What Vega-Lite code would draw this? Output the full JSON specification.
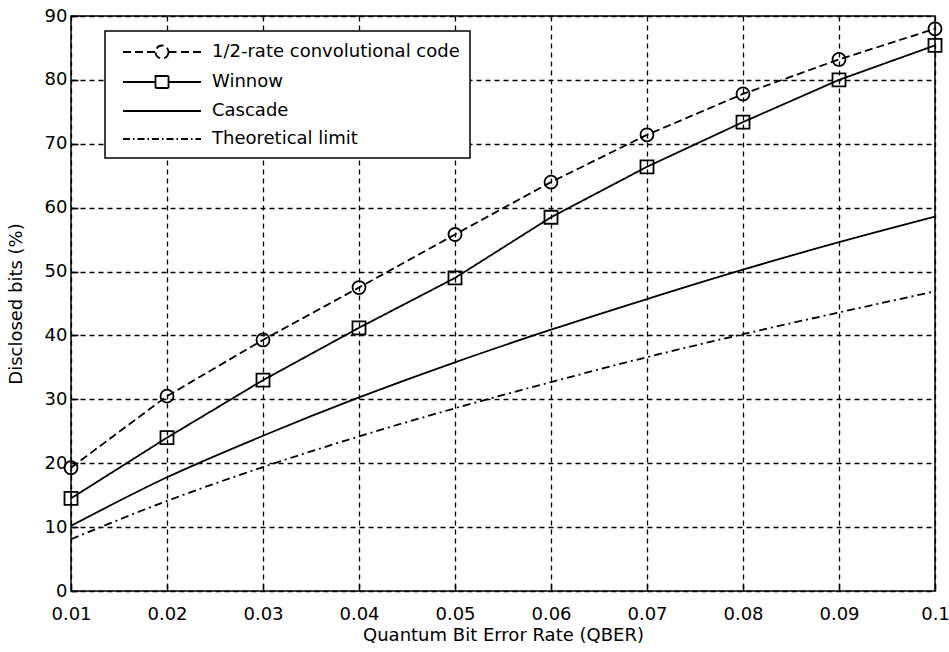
{
  "$schema": "https://vega.github.io/schema/vega-lite/v6.json",
  "width": 864,
  "height": 575,
  "autosize": {"type": "none"},
  "padding": {"left": 71, "top": 16, "right": 14, "bottom": 61},
  "background": "white",
  "data": {
    "values": [
      {"x": 0.01, "y": 19.3, "s": "1/2-rate convolutional code"},
      {"x": 0.02, "y": 30.5, "s": "1/2-rate convolutional code"},
      {"x": 0.03, "y": 39.3, "s": "1/2-rate convolutional code"},
      {"x": 0.04, "y": 47.5, "s": "1/2-rate convolutional code"},
      {"x": 0.05, "y": 55.8, "s": "1/2-rate convolutional code"},
      {"x": 0.06, "y": 64.0, "s": "1/2-rate convolutional code"},
      {"x": 0.07, "y": 71.4, "s": "1/2-rate convolutional code"},
      {"x": 0.08, "y": 77.8, "s": "1/2-rate convolutional code"},
      {"x": 0.09, "y": 83.2, "s": "1/2-rate convolutional code"},
      {"x": 0.10, "y": 88.0, "s": "1/2-rate convolutional code"},
      {"x": 0.01, "y": 14.5, "s": "Winnow"},
      {"x": 0.02, "y": 24.0, "s": "Winnow"},
      {"x": 0.03, "y": 33.0, "s": "Winnow"},
      {"x": 0.04, "y": 41.2, "s": "Winnow"},
      {"x": 0.05, "y": 49.0, "s": "Winnow"},
      {"x": 0.06, "y": 58.5, "s": "Winnow"},
      {"x": 0.07, "y": 66.4, "s": "Winnow"},
      {"x": 0.08, "y": 73.4, "s": "Winnow"},
      {"x": 0.09, "y": 80.0, "s": "Winnow"},
      {"x": 0.10, "y": 85.4, "s": "Winnow"},
      {"x": 0.01, "y": 10.2, "s": "Cascade"},
      {"x": 0.02, "y": 17.8, "s": "Cascade"},
      {"x": 0.03, "y": 24.3, "s": "Cascade"},
      {"x": 0.04, "y": 30.3, "s": "Cascade"},
      {"x": 0.05, "y": 35.8, "s": "Cascade"},
      {"x": 0.06, "y": 40.9, "s": "Cascade"},
      {"x": 0.07, "y": 45.7, "s": "Cascade"},
      {"x": 0.08, "y": 50.3, "s": "Cascade"},
      {"x": 0.09, "y": 54.6, "s": "Cascade"},
      {"x": 0.10, "y": 58.6, "s": "Cascade"},
      {"x": 0.01, "y": 8.1, "s": "Theoretical limit"},
      {"x": 0.02, "y": 14.1, "s": "Theoretical limit"},
      {"x": 0.03, "y": 19.4, "s": "Theoretical limit"},
      {"x": 0.04, "y": 24.2, "s": "Theoretical limit"},
      {"x": 0.05, "y": 28.6, "s": "Theoretical limit"},
      {"x": 0.06, "y": 32.7, "s": "Theoretical limit"},
      {"x": 0.07, "y": 36.6, "s": "Theoretical limit"},
      {"x": 0.08, "y": 40.2, "s": "Theoretical limit"},
      {"x": 0.09, "y": 43.6, "s": "Theoretical limit"},
      {"x": 0.10, "y": 46.9, "s": "Theoretical limit"}
    ]
  },
  "encoding": {
    "x": {
      "field": "x", "type": "quantitative",
      "scale": {"domain": [0.01, 0.1], "nice": false, "zero": false},
      "axis": {
        "values": [0.01, 0.02, 0.03, 0.04, 0.05, 0.06, 0.07, 0.08, 0.09, 0.1],
        "format": ".2~f",
        "labelFlush": false,
        "labelPadding": 21,
        "title": "Quantum Bit Error Rate (QBER)",
        "titlePadding": 3
      }
    },
    "y": {
      "field": "y", "type": "quantitative",
      "scale": {"domain": [0, 90], "nice": false},
      "axis": {
        "values": [0, 10, 20, 30, 40, 50, 60, 70, 80, 90],
        "labelFlush": false,
        "title": "Disclosed bits (%)",
        "titlePadding": 19
      }
    }
  },
  "layer": [
    {
      "transform": [{"filter": "datum.s == '1/2-rate convolutional code' || datum.s == 'Winnow'"}],
      "mark": {"type": "line", "color": "black", "strokeWidth": 1.8},
      "encoding": {
        "strokeDash": {
          "field": "s", "type": "nominal",
          "scale": {
            "domain": ["1/2-rate convolutional code", "Winnow", "Cascade", "Theoretical limit"],
            "range": [[8, 4], [1, 0], [1, 0], [8, 4, 2, 4]]
          },
          "legend": {
            "title": null,
            "orient": "none",
            "legendX": 34,
            "legendY": 15,
            "padding": 10,
            "fillColor": "white",
            "strokeColor": "black",
            "symbolSize": 400,
            "symbolStrokeColor": "black",
            "symbolStrokeWidth": 1.8,
            "labelOffset": 75,
            "labelFont": "DejaVu Sans",
            "labelFontSize": 18,
            "labelColor": "black",
            "labelLimit": 400,
            "rowPadding": 8,
            "encode": {
              "symbols": {
                "update": {
                  "shape": {"signal": "datum.value === 'Winnow' ? 'M-0.3,0L2.95,0M4.25,0L7.5,0M2.95,-0.6L4.25,-0.6L4.25,0.6L2.95,0.6Z' : datum.value === 'Cascade' ? 'M-0.3,0L7.5,0' : datum.value === 'Theoretical limit' ? 'M-0.3,0L0.4,0M0.7,0L0.85,0M1.15,0L1.85,0M2.15,0L2.3,0M2.6,0L3.3,0M3.6,0L3.75,0M4.05,0L4.75,0M5.05,0L5.2,0M5.5,0L6.2,0M6.5,0L6.65,0M6.95,0L7.5,0' : 'M-0.3,0L0.5,0M0.9,0L1.7,0M2.1,0L2.95,0M4.25,0L5.1,0M5.5,0L6.3,0M6.7,0L7.5,0M4.25,0A0.65,0.65 0 1 1 2.95,0A0.65,0.65 0 1 1 4.25,0'"},
                  "strokeDash": {"value": [1, 0]},
                  "fill": {"value": "transparent"},
                  "stroke": {"value": "black"},
                  "strokeWidth": {"value": 1.8},
                  "opacity": {"value": 1}
                }
              }
            }
          }
        }
      }
    },
    {
      "transform": [{"filter": "datum.s == 'Cascade'"}],
      "mark": {"type": "line", "color": "black", "strokeWidth": 1.8, "interpolate": "monotone"}
    },
    {
      "transform": [{"filter": "datum.s == 'Theoretical limit'"}],
      "mark": {"type": "line", "color": "black", "strokeWidth": 1.8, "interpolate": "monotone", "strokeDash": [8, 4, 2, 4]}
    },
    {
      "transform": [{"filter": "datum.s == '1/2-rate convolutional code'"}],
      "mark": {"type": "point", "shape": "circle", "size": 169, "filled": false, "color": "black", "strokeWidth": 1.8, "opacity": 1}
    },
    {
      "transform": [{"filter": "datum.s == 'Winnow'"}],
      "mark": {"type": "point", "shape": "square", "size": 169, "filled": false, "color": "black", "strokeWidth": 1.8, "opacity": 1}
    }
  ],
  "config": {
    "view": {"stroke": "black", "strokeWidth": 1.5},
    "axis": {
      "domain": false,
      "grid": true,
      "gridColor": "black",
      "gridOpacity": 1,
      "gridDash": [5, 4],
      "gridWidth": 1.3,
      "ticks": true,
      "tickColor": "black",
      "tickSize": -7,
      "tickWidth": 1.5,
      "labelPadding": 11,
      "labelFont": "DejaVu Sans",
      "labelFontSize": 18,
      "labelColor": "black",
      "titleFont": "DejaVu Sans",
      "titleFontSize": 18,
      "titleFontWeight": "normal",
      "titleColor": "black"
    },
    "legend": {"strokeWidth": 1.5}
  }
}
